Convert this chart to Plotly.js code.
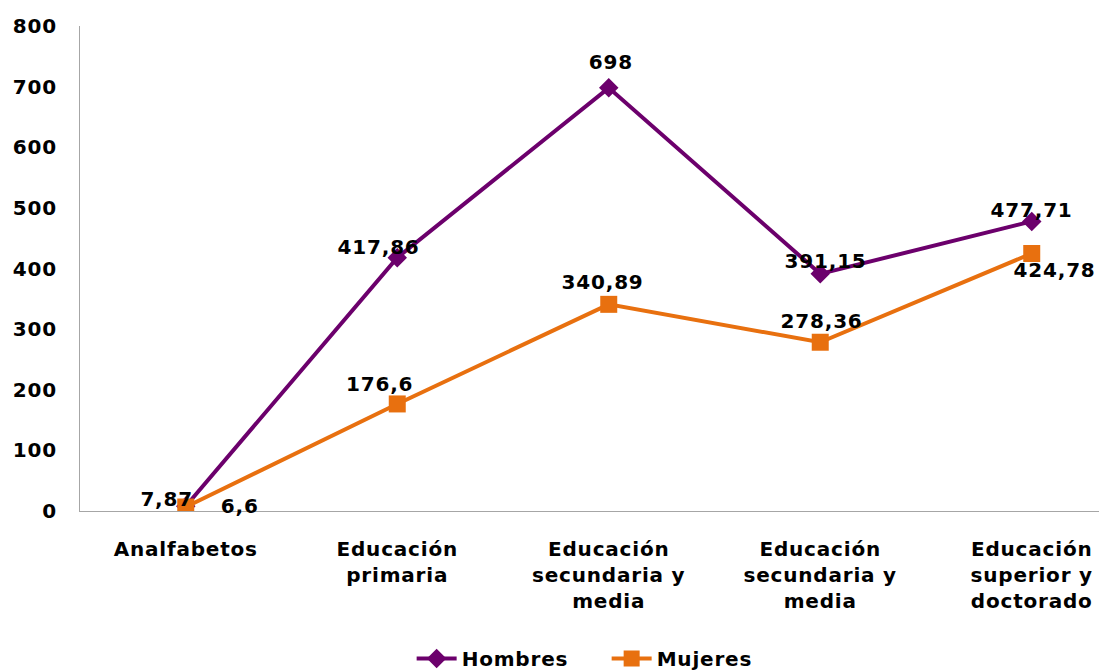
<!DOCTYPE html>
<html>
<head>
<meta charset="utf-8">
<script src="https://cdn.plot.ly/plotly-3.0.1.min.js"></script>
<style>html,body{margin:0;padding:0;background:#fff;}#chart{width:1099px;height:671px;}
#chart svg text{letter-spacing:0.8px;}</style>
</head>
<body>
<div id="chart"></div>
<script>
var categories = ["Analfabetos", "Educación<br>primaria", "Educación<br>secundaria y<br>media", "Educación<br>secundaria y<br>media", "Educación<br>superior y<br>doctorado"];
var hombres = [7.87, 417.86, 698, 391.15, 477.71];
var mujeres = [6.6, 176.6, 340.89, 278.36, 424.78];
var yTicks = [0, 100, 200, 300, 400, 500, 600, 700, 800];

var hShift = [[-19, 7], [-19, 11], [2, 26], [5, 13], [0, 11]];
var mShift = [[54, 1], [-18, 20], [-6, 22], [1, 21], [23, -17]];

var xs = categories.map(function (c, i) { return i; });
var fontFam = "DejaVu Sans, Verdana, sans-serif";
function fmt(v) { return String(v).replace('.', ','); }

var purple = '#6C006C';
var orange = '#E8700F';
var fs = 20;

var traces = [
  {x: xs, y: hombres, name: 'Hombres', type: 'scatter', mode: 'lines+markers',
   line: {color: purple, width: 4}, marker: {symbol: 'diamond', size: 15, color: purple}},
  {x: xs, y: mujeres, name: 'Mujeres', type: 'scatter', mode: 'lines+markers',
   line: {color: orange, width: 4}, marker: {symbol: 'square', size: 17, color: orange}}
];

var annotations = [];
hombres.forEach(function (v, i) {
  annotations.push({x: i, y: v, xref: 'x', yref: 'y', text: fmt(v), showarrow: false,
    xshift: hShift[i][0], yshift: hShift[i][1], font: {family: fontFam, size: fs, color: '#000', weight: 'bold'}});
});
mujeres.forEach(function (v, i) {
  annotations.push({x: i, y: v, xref: 'x', yref: 'y', text: fmt(v), showarrow: false,
    xshift: mShift[i][0], yshift: mShift[i][1], font: {family: fontFam, size: fs, color: '#000', weight: 'bold'}});
});

var layout = {
  width: 1099, height: 671,
  margin: {l: 80, r: 0, t: 26, b: 160, autoexpand: false},
  paper_bgcolor: '#fff', plot_bgcolor: '#fff',
  font: {family: fontFam, size: fs, color: '#000', weight: 'bold'},
  showlegend: true,
  legend: {orientation: 'h', x: 0.552, xref: 'container', xanchor: 'center', y: -0.304, yref: 'paper', yanchor: 'middle',
    font: {family: fontFam, size: fs, color: '#000', weight: 'bold'}, itemwidth: 40, entrywidth: 140, tracegroupgap: 0},
  xaxis: {range: [-0.5, 4.318], tickmode: 'array', tickvals: xs, ticktext: categories,
    showgrid: false, zeroline: false, showline: true, linecolor: '#A6A6A6', linewidth: 1,
    ticks: '', ticklabelstandoff: 20, fixedrange: true, automargin: false,
    tickfont: {family: fontFam, size: fs, color: '#000', weight: 'bold'}},
  yaxis: {range: [0, 800], tickmode: 'array', tickvals: yTicks, ticktext: yTicks.map(String),
    showgrid: false, zeroline: false, showline: true, linecolor: '#A6A6A6', linewidth: 1,
    ticks: '', ticklabelstandoff: 18, fixedrange: true, automargin: false,
    tickfont: {family: fontFam, size: fs, color: '#000', weight: 'bold'}},
  annotations: annotations
};

Plotly.newPlot('chart', traces, layout, {displayModeBar: false, staticPlot: true});
</script>
</body>
</html>
